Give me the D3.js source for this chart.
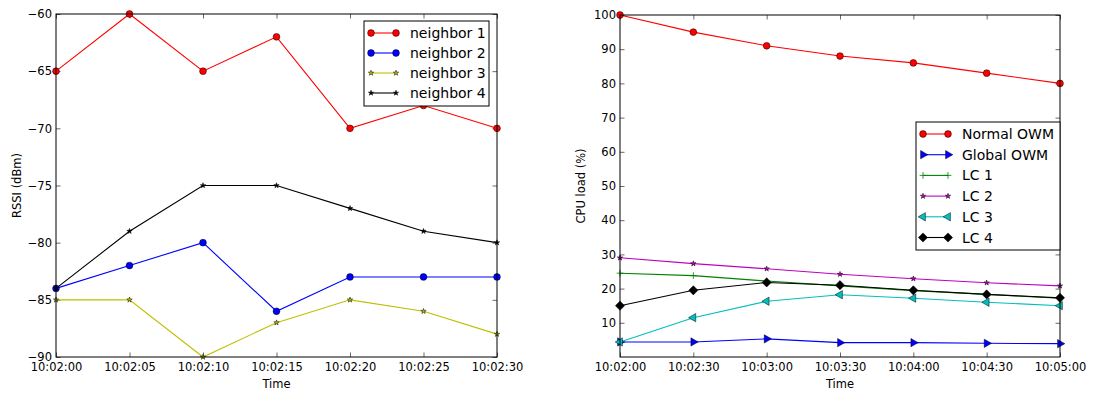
<!DOCTYPE html>
<html>
<head>
<meta charset="utf-8">
<script src="https://cdn.jsdelivr.net/npm/d3@7"></script>
<style>
  body { margin: 0; background: #fff; }
  text { font-family: "DejaVu Sans", sans-serif; }
</style>
</head>
<body>
<div class="canvas"></div>
<script>
// ---- data ----
const rssiTimes = ["10:02:00", "10:02:05", "10:02:10", "10:02:15", "10:02:20", "10:02:25", "10:02:30"];
const neighbor1 = [-65, -60, -65, -62, -70, -68, -70];
const neighbor2 = [-84, -82, -80, -86, -83, -83, -83];
const neighbor3 = [-85, -85, -90, -87, -85, -86, -88];
const neighbor4 = [-84, -79, -75, -75, -77, -79, -80];
const rssiTicks = [-90, -85, -80, -75, -70, -65, -60];

const cpuTimes = ["10:02:00", "10:02:30", "10:03:00", "10:03:30", "10:04:00", "10:04:30", "10:05:00"];
const normalOWM = [100, 95, 91, 88, 86, 83, 80];
const globalOWM = [4.4, 4.4, 5.3, 4.2, 4.2, 4.0, 3.9];
const lc1 = [24.5, 23.8, 22.2, 20.8, 19.4, 18.3, 17.2];
const lc2 = [29.0, 27.3, 25.8, 24.2, 22.9, 21.7, 20.8];
const lc3 = [4.4, 11.5, 16.3, 18.2, 17.2, 16.0, 15.0];
const lc4 = [15.0, 19.5, 21.8, 21.0, 19.5, 18.3, 17.3];
const cpuTicks = [10, 20, 30, 40, 50, 60, 70, 80, 90, 100];

const parseTime = d3.timeParse("%H:%M:%S");
const fmtTime = d3.timeFormat("%H:%M:%S");
const fmtNum = d => String(d).replace("-", "\u2212");

const svg = d3.select(".canvas").append("svg").attr("width", 1093).attr("height", 394);

// marker shapes, roughly like the matplotlib ones
function markerPath(kind) {
  if (kind === "circle") return d3.symbol().type(d3.symbolCircle).size(36)();
  if (kind === "star") return d3.symbol().type(d3.symbolStar).size(9)();
  if (kind === "diamond") return d3.symbol().type(d3.symbolSquare).size(42)();
  if (kind === "tri") return d3.symbol().type(d3.symbolTriangle).size(30)();
  if (kind === "plus") return "M-3.4,0H3.4M0,-3.4V3.4";
  return "";
}
function markerTransform(kind, x, y) {
  let t = "translate(" + x + "," + y + ")";
  if (kind === "diamond") t += " rotate(45)";
  if (kind === "triR") t += " rotate(90)";
  if (kind === "triL") t += " rotate(-90)";
  return t;
}
function drawMarker(g, kind, color, x, y) {
  const base = (kind === "triR" || kind === "triL") ? "tri" : kind;
  const p = g.append("path")
    .attr("d", markerPath(base))
    .attr("transform", markerTransform(kind, x, y));
  if (kind === "plus") {
    p.attr("fill", "none").attr("stroke", color).attr("stroke-width", 0.8);
  } else {
    p.attr("fill", color).attr("stroke", "#000").attr("stroke-width", 0.5);
  }
}

function drawPanel(opt) {
  const g = svg.append("g");
  const x = d3.scaleTime()
    .domain([parseTime(opt.times[0]), parseTime(opt.times[opt.times.length - 1])])
    .range([opt.left, opt.right]);
  const y = d3.scaleLinear().domain(opt.yDomain).range([opt.bottom, opt.top]);
  const tickVals = opt.times.map(parseTime);

  // axes, ticks pointing inward on all four sides
  g.append("g").attr("transform", "translate(0," + opt.bottom + ")")
    .call(d3.axisBottom(x).tickValues(tickVals).tickFormat(fmtTime).tickSizeInner(-4.5).tickSizeOuter(0).tickPadding(6));
  g.append("g").attr("transform", "translate(0," + opt.top + ")")
    .call(d3.axisTop(x).tickValues(tickVals).tickFormat("").tickSizeInner(-4.5).tickSizeOuter(0));
  g.append("g").attr("transform", "translate(" + opt.left + ",0)")
    .call(d3.axisLeft(y).tickValues(opt.yTicks).tickFormat(fmtNum).tickSizeInner(-4.5).tickSizeOuter(0).tickPadding(4));
  g.append("g").attr("transform", "translate(" + opt.right + ",0)")
    .call(d3.axisRight(y).tickValues(opt.yTicks).tickFormat("").tickSizeInner(-4.5).tickSizeOuter(0));
  g.selectAll(".domain").remove();
  g.selectAll(".tick text").attr("font-size", "11.5px").attr("fill", "#000");
  g.selectAll(".tick line").attr("stroke", "#000").attr("stroke-width", 0.6);

  // series
  const line = d3.line().x((d, i) => x(tickVals[i])).y(d => y(d));
  opt.series.forEach(s => {
    g.append("path").datum(s.values)
      .attr("d", line).attr("fill", "none")
      .attr("stroke", s.color).attr("stroke-width", 1.1);
    s.values.forEach((v, i) => drawMarker(g, s.marker, s.color, x(tickVals[i]), y(v)));
  });

  // frame
  g.append("rect").attr("x", opt.left).attr("y", opt.top)
    .attr("width", opt.right - opt.left).attr("height", opt.bottom - opt.top)
    .attr("fill", "none").attr("stroke", "#000").attr("stroke-width", 1);

  // labels
  g.append("text").attr("x", (opt.left + opt.right) / 2).attr("y", opt.bottom + 31)
    .attr("text-anchor", "middle").attr("font-size", "11.5px").text("Time");
  g.append("text")
    .attr("transform", "translate(" + opt.yLabelX + "," + (opt.top + opt.bottom) / 2 + ") rotate(-90)")
    .attr("text-anchor", "middle").attr("font-size", "11.5px").text(opt.yLabel);

  // legend
  const L = opt.legend;
  const lg = g.append("g");
  lg.append("rect").attr("x", L.x).attr("y", L.y).attr("width", L.w).attr("height", L.h)
    .attr("fill", "#fff").attr("stroke", "#000").attr("stroke-width", 1);
  opt.series.forEach((s, i) => {
    const cy = L.y + L.first + i * L.step;
    lg.append("line").attr("x1", L.x + 7).attr("x2", L.x + 32).attr("y1", cy).attr("y2", cy)
      .attr("stroke", s.color).attr("stroke-width", 1.1);
    drawMarker(lg, s.marker, s.color, L.x + 7, cy);
    drawMarker(lg, s.marker, s.color, L.x + 32, cy);
    lg.append("text").attr("x", L.x + 46).attr("y", cy + 5)
      .attr("font-size", "14px").text(s.name);
  });
}

drawPanel({
  times: rssiTimes, yDomain: [-90, -60], yTicks: rssiTicks,
  left: 56, right: 497, top: 14, bottom: 357,
  yLabel: "RSSI (dBm)", yLabelX: 21,
  series: [
    { name: "neighbor 1", values: neighbor1, color: "#ff0000", marker: "circle" },
    { name: "neighbor 2", values: neighbor2, color: "#0000ff", marker: "circle" },
    { name: "neighbor 3", values: neighbor3, color: "#bfbf00", marker: "star" },
    { name: "neighbor 4", values: neighbor4, color: "#000000", marker: "star" }
  ],
  legend: { x: 364, y: 21, w: 125, h: 85, first: 12, step: 20 }
});

drawPanel({
  times: cpuTimes, yDomain: [0, 100], yTicks: cpuTicks,
  left: 620, right: 1060, top: 15, bottom: 357,
  yLabel: "CPU load (%)", yLabelX: 585,
  series: [
    { name: "Normal OWM", values: normalOWM, color: "#ff0000", marker: "circle" },
    { name: "Global OWM", values: globalOWM, color: "#0000ff", marker: "triR" },
    { name: "LC 1", values: lc1, color: "#008000", marker: "plus" },
    { name: "LC 2", values: lc2, color: "#bf00bf", marker: "star" },
    { name: "LC 3", values: lc3, color: "#00bfbf", marker: "triL" },
    { name: "LC 4", values: lc4, color: "#000000", marker: "diamond" }
  ],
  legend: { x: 916, y: 122, w: 144, h: 128, first: 12, step: 20.7 }
});
</script>
</body>
</html>
